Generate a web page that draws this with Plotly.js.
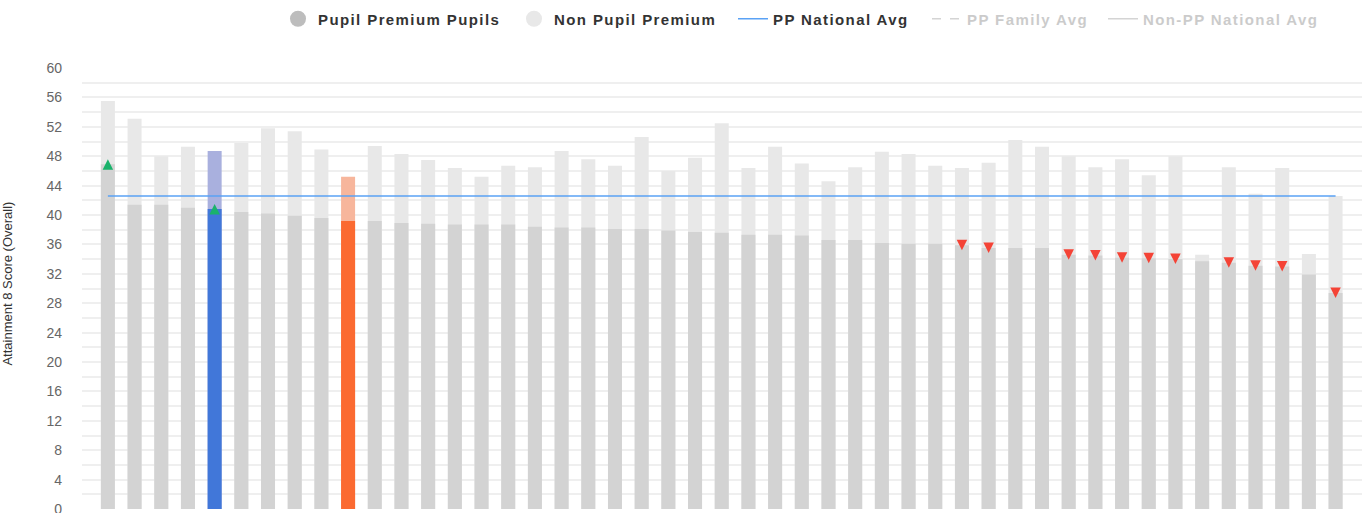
<!DOCTYPE html>
<html>
<head>
<meta charset="utf-8">
<script src="https://cdn.plot.ly/plotly-3.0.1.min.js"></script>
<style>
  html, body { margin: 0; padding: 0; background: #fff; }
  #chart { width: 1362px; height: 513px; }
  .legend text, .legend2 text, .legend3 text, .legend4 text, .legend5 text, text.legendtext {
    letter-spacing: 1.4px !important;
  }
</style>
</head>
<body>
<div id="chart"></div>
<script>
// ---------- data ----------
const schools = [
  'School 1','School 2','School 3','School 4','School 5','School 6','School 7','School 8',
  'School 9','School 10','School 11','School 12','School 13','School 14','School 15','School 16',
  'School 17','School 18','School 19','School 20','School 21','School 22','School 23','School 24',
  'School 25','School 26','School 27','School 28','School 29','School 30','School 31','School 32',
  'School 33','School 34','School 35','School 36','School 37','School 38','School 39','School 40',
  'School 41','School 42','School 43','School 44','School 45','School 46','School 47'
];
const ppPupils = [
  46.9, 41.4, 41.4, 41.0, 40.8, 40.4, 40.2, 39.9, 39.6, 39.2,
  39.2, 38.9, 38.8, 38.7, 38.7, 38.7, 38.4, 38.3, 38.3, 38.1,
  38.1, 37.9, 37.7, 37.6, 37.3, 37.3, 37.2, 36.6, 36.6, 36.2,
  36.1, 36.1, 35.9, 35.5, 35.5, 35.5, 34.6, 34.5, 34.2, 34.1,
  34.0, 33.7, 33.5, 33.1, 33.0, 31.9, 29.4
];
const nonPP = [
  55.5, 53.1, 48.0, 49.3, 48.7, 49.8, 51.8, 51.4, 48.9, 45.2,
  49.4, 48.3, 47.5, 46.4, 45.2, 46.7, 46.5, 48.7, 47.6, 46.7,
  50.6, 46.0, 47.8, 52.5, 46.4, 49.3, 47.0, 44.6, 46.5, 48.6,
  48.3, 46.7, 46.4, 47.1, 50.2, 49.3, 48.0, 46.5, 47.6, 45.4,
  48.0, 34.6, 46.5, 42.9, 46.4, 34.7, 42.6
];
// significance flag per school: 'up', 'down' or null
const flags = [
  'up', null, null, null, 'up', null, null, null, null, null,
  null, null, null, null, null, null, null, null, null, null,
  null, null, null, null, null, null, null, null, null, null,
  null, null, 'down', 'down', null, null, 'down', 'down', 'down', 'down',
  'down', null, 'down', 'down', 'down', null, 'down'
];
const ppNationalAvg = 42.6;
const highlighted = { 'School 5': 'blue', 'School 10': 'orange' };
const yTicks = [0, 4, 8, 12, 16, 20, 24, 28, 32, 36, 40, 44, 48, 52, 56, 60];

// ---------- styles ----------
const palette = {
  blue:   { pp: '#4177d9', non: '#a9b0de' },
  orange: { pp: '#fb6a31', non: '#f7b69c' },
  none:   { pp: '#d3d3d3', non: '#e8e8e8' }
};
const ppColors = schools.map(s => palette[highlighted[s] || 'none'].pp);
const nonColors = schools.map(s => palette[highlighted[s] || 'none'].non);

const legendFont = { family: 'Liberation Sans, Arial, sans-serif', size: 15, weight: 'bold', color: '#333' };
const legendFontOff = { family: 'Liberation Sans, Arial, sans-serif', size: 15, weight: 'bold', color: '#999' };
function legendAt(px, font) {
  return {
    xref: 'container', yref: 'container',
    x: px / 1362, y: 1 - 19 / 513,
    xanchor: 'left', yanchor: 'middle',
    orientation: 'h', bgcolor: 'rgba(0,0,0,0)', borderwidth: 0,
    entrywidth: 210, entrywidthmode: 'pixels',
    font: font
  };
}

const traces = [
  { type: 'bar', x: schools, y: nonPP, width: 0.525, marker: { color: nonColors, line: { width: 0 } },
    name: 'Non Pupil Premium', showlegend: false, hoverinfo: 'x+y' },
  { type: 'bar', x: schools, y: ppPupils, width: 0.525, marker: { color: ppColors, line: { width: 0 } },
    name: 'Pupil Premium Pupils', showlegend: false, hoverinfo: 'x+y' },
  { type: 'scatter', mode: 'lines', x: [schools[0], schools[schools.length - 1]], y: [ppNationalAvg, ppNationalAvg],
    line: { color: '#5aa2f5', width: 1.5 }, name: 'PP National Avg', legend: 'legend3', hoverinfo: 'y' },
  { type: 'scatter', mode: 'markers', x: schools, y: ppPupils.map((v, i) => flags[i] === 'up' ? v : null),
    marker: { symbol: 'arrow-down', size: 10.5, angle: 180, standoff: 5, color: '#1ab26b', line: { width: 0 } },
    showlegend: false, hoverinfo: 'skip' },
  { type: 'scatter', mode: 'markers', x: schools, y: ppPupils.map((v, i) => flags[i] === 'down' ? v : null),
    marker: { symbol: 'arrow-down', size: 10.5, angle: 0, standoff: 5, color: '#f44336', line: { width: 0 } },
    showlegend: false, hoverinfo: 'skip' },
  // legend entries
  { type: 'scatter', mode: 'markers', x: [schools[0]], y: [null], name: 'Pupil Premium Pupils',
    marker: { symbol: 'circle', size: 16, color: '#bdbdbd' }, legend: 'legend', showlegend: true, hoverinfo: 'skip' },
  { type: 'scatter', mode: 'markers', x: [schools[0]], y: [null], name: 'Non Pupil Premium',
    marker: { symbol: 'circle', size: 16, color: '#e8e8e8' }, legend: 'legend2', showlegend: true, hoverinfo: 'skip' },
  { type: 'scatter', mode: 'lines', x: [schools[0]], y: [null], name: 'PP Family Avg', visible: 'legendonly',
    line: { color: '#aaaaaa', width: 1.5, dash: 'dash' }, legend: 'legend4', showlegend: true },
  { type: 'scatter', mode: 'lines', x: [schools[0]], y: [null], name: 'Non-PP National Avg', visible: 'legendonly',
    line: { color: '#aaaaaa', width: 1.5 }, legend: 'legend5', showlegend: true }
];

const layout = {
  width: 1362, height: 513,
  margin: { l: 82, r: 0, t: 68, b: 4 },
  paper_bgcolor: '#ffffff', plot_bgcolor: '#ffffff',
  barmode: 'overlay',
  showlegend: true,
  legend: legendAt(278, legendFont),
  legend2: legendAt(514, legendFont),
  legend3: legendAt(733, legendFont),
  legend4: legendAt(927, legendFontOff),
  legend5: legendAt(1103, legendFontOff),
  xaxis: {
    type: 'category', range: [-0.97, 46.99],
    showticklabels: false, showgrid: false, zeroline: false, showline: false, ticks: ''
  },
  yaxis: {
    range: [0, 60], tickmode: 'array', tickvals: yTicks, ticktext: yTicks.map(String),
    showgrid: true, gridcolor: '#efefef', gridwidth: 2,
    minor: { dtick: 2, tick0: 0, showgrid: true, gridcolor: '#efefef', gridwidth: 2 },
    zeroline: false, showline: false, ticks: '',
    ticklabelstandoff: 19, ticklabeloverflow: 'allow',
    tickfont: { family: 'Liberation Sans, Arial, sans-serif', size: 14, color: '#666' }
  },
  annotations: [{
    xref: 'paper', yref: 'paper', x: (17 - 82) / 1280, y: 0.51,
    xanchor: 'right', yanchor: 'middle', textangle: -90, showarrow: false,
    text: 'Attainment 8 Score (Overall)',
    font: { family: 'Liberation Sans, Arial, sans-serif', size: 13, color: '#333' }
  }]
};

Plotly.newPlot('chart', traces, layout, { displayModeBar: false, responsive: false });
</script>
</body>
</html>
